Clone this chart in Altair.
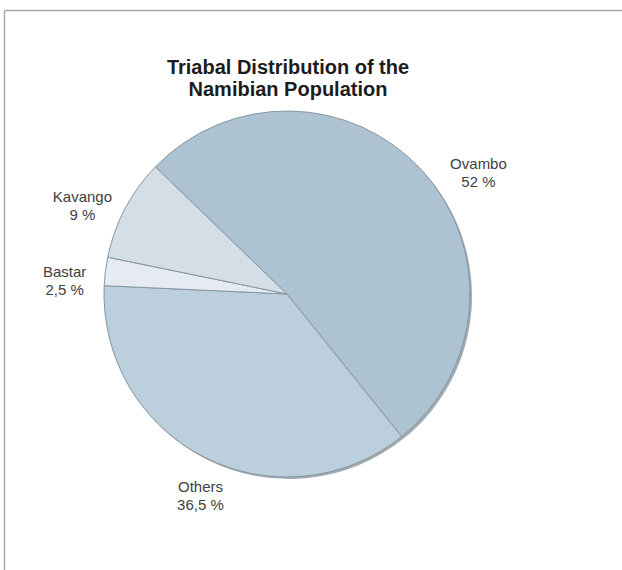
import math
import altair as alt
import pandas as pd

# ---- data ----
tribes = ["Ovambo", "Others", "Bastar", "Kavango"]
shares = [52.0, 36.5, 2.5, 9.0]
share_text = ["52 %", "36,5 %", "2,5 %", "9 %"]
slice_colors = ["#aec3d2", "#bccfdc", "#e5ebf0", "#d3dee7"]
title_lines = ["Triabal Distribution of the", "Namibian Population"]

# label nudges (pixels) relative to the slice mid-angle position
label_dx = [29, 13, -4, -10]
label_dy = [23, 2, 10, 11]

df = pd.DataFrame({
    "tribe": tribes,
    "share": shares,
    "pos": list(range(len(tribes))),
    "label": [f"{t}\n{s}" for t, s in zip(tribes, share_text)],
})

start = math.radians(-46)
theta_scale = alt.Scale(domain=[0, 100], range=[start, start + 2 * math.pi])

base = alt.Chart(df)

shadow = base.mark_arc(radius=183, xOffset=2, yOffset=2, color="#a2abb2").encode(
    theta=alt.Theta("share:Q", stack=True, scale=theta_scale),
    order=alt.Order("pos:Q"),
)

slices = base.mark_arc(radius=183, stroke="#8595a1", strokeWidth=1).encode(
    theta=alt.Theta("share:Q", stack=True, scale=theta_scale),
    order=alt.Order("pos:Q"),
    color=alt.Color("tribe:N", scale=alt.Scale(domain=tribes, range=slice_colors), legend=None),
)

stacked = base.transform_window(
    cum="sum(share)", sort=[alt.SortField("pos")], frame=[None, 0]
).transform_calculate(mid="datum.cum - datum.share / 2")

label_layers = []
for i, t in enumerate(tribes):
    label_layers.append(
        stacked.transform_filter(alt.datum.tribe == t).mark_text(
            radius=220, dx=label_dx[i], dy=label_dy[i], lineBreak="\n",
            fontSize=15, font="Liberation Sans", color="#404040",
            align="center", baseline="alphabetic", lineHeight=18,
        ).encode(
            theta=alt.Theta("mid:Q", scale=theta_scale, stack=False),
            text="label:N",
        )
    )

one = pd.DataFrame({"a": [0]})
frame_top = alt.Chart(one).mark_rule(color="#a6a6a6", strokeWidth=1.5).encode(
    x=alt.value(-35.5), x2=alt.value(582), y=alt.value(-39.5)
)
frame_left = alt.Chart(one).mark_rule(color="#a6a6a6", strokeWidth=1.5).encode(
    x=alt.value(-35.5), y=alt.value(-39.5), y2=alt.value(520)
)

title = alt.Chart(one).mark_text(
    text=title_lines, fontSize=20, fontWeight="bold", font="Liberation Sans",
    color="#1c1c1c", align="center", baseline="alphabetic", lineHeight=22,
).encode(x=alt.value(248), y=alt.value(24.3))

chart = alt.layer(frame_top, frame_left, shadow, slices, *label_layers, title).properties(
    width=494, height=488,
    padding={"left": 40, "top": 50, "right": 88, "bottom": 32},
    autosize="none",
).configure_view(strokeWidth=0)

chart.save("out.html", embed_options={"renderer": "svg", "actions": False})
